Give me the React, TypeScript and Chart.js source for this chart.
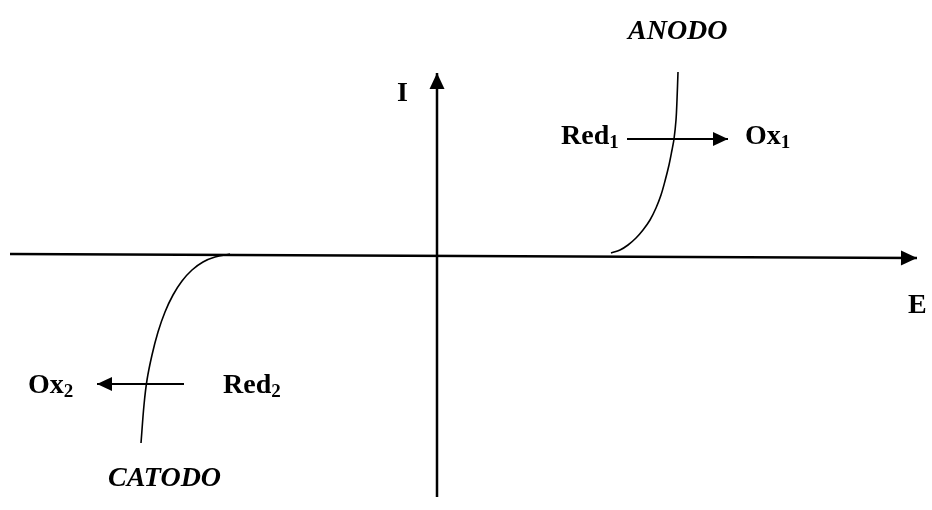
import { useEffect, useRef } from "react";
import { Chart, registerables } from "chart.js";

Chart.register(...registerables);

// Potential (E) / current (I) values, origin at axis crossing
const anodeE = [174, 183, 191, 199, 206, 213, 219, 224, 228, 232, 235, 237, 239, 240, 241];
const anodeI = [3, 6, 11, 18, 26, 36, 48, 61, 75, 91, 106, 117, 136, 156, 184];
const cathodeE = [-207, -222, -234, -245, -255, -264, -272, -279, -285, -290, -293, -296];
const cathodeI = [2, -1, -6, -14, -25, -39, -56, -76, -99, -124, -149, -187];

const eAxisE = [-427, 480];
const eAxisI = [2, -2];
const iAxisE = [0, 0];
const iAxisI = [-241, 183];

const oxidArrowE = [190, 291];
const oxidArrowI = [117, 117];
const reducArrowE = [-253, -340];
const reducArrowI = [-128, -128];

// Text labels: main text, subscript, anchor (E, I), italic
const labelText = ["I", "E", "Red", "Ox", "Ox", "Red", "ANODO", "CATODO"];
const labelSub = ["", "", "1", "1", "2", "2", "", ""];
const labelE = [-40, 471, 124, 308, -409, -214, 191, -329];
const labelI = [155, -57, 112, 112, -137, -137, 217, -230];
const labelItalic = [false, false, false, false, false, false, true, true];

const pts = (xs: number[], ys: number[]) => xs.map((x, i) => ({ x, y: ys[i] }));

const FONT = '"Liberation Serif", "Times New Roman", serif';

const overlay = {
  id: "overlay",
  afterDatasetsDraw(chart: any) {
    const ctx = chart.ctx as CanvasRenderingContext2D;
    const xs = chart.scales.x;
    const ys = chart.scales.y;
    ctx.save();
    // arrowheads
    chart.data.datasets.forEach((ds: any, di: number) => {
      if (!ds.arrow) return;
      const meta = chart.getDatasetMeta(di);
      const n = meta.data.length;
      const a = meta.data[n - 2];
      const b = meta.data[n - 1];
      const ang = Math.atan2(b.y - a.y, b.x - a.x);
      const len = ds.arrowLen;
      const hw = ds.arrowHalf;
      ctx.fillStyle = "#000";
      ctx.beginPath();
      ctx.moveTo(b.x, b.y);
      ctx.lineTo(
        b.x - len * Math.cos(ang) + hw * Math.sin(ang),
        b.y - len * Math.sin(ang) - hw * Math.cos(ang)
      );
      ctx.lineTo(
        b.x - len * Math.cos(ang) - hw * Math.sin(ang),
        b.y - len * Math.sin(ang) + hw * Math.cos(ang)
      );
      ctx.closePath();
      ctx.fill();
    });
    // labels
    ctx.fillStyle = "#000";
    ctx.textAlign = "left";
    ctx.textBaseline = "alphabetic";
    labelText.forEach((t, i) => {
      const px = xs.getPixelForValue(labelE[i]);
      const py = ys.getPixelForValue(labelI[i]);
      ctx.font = `${labelItalic[i] ? "italic " : ""}bold 28px ${FONT}`;
      ctx.fillText(t, px, py);
      if (labelSub[i]) {
        const w = ctx.measureText(t).width;
        ctx.font = `bold 19px ${FONT}`;
        ctx.fillText(labelSub[i], px + w, py + 4);
      }
    });
    ctx.restore();
  },
};

export default function App() {
  const ref = useRef<HTMLCanvasElement | null>(null);
  useEffect(() => {
    if (!ref.current) return;
    const line = (data: any, width: number, extra: any = {}) => ({
      data,
      showLine: true,
      borderColor: "#000",
      backgroundColor: "#000",
      borderWidth: width,
      pointRadius: 0,
      fill: false,
      ...extra,
    });
    const chart = new Chart(ref.current, {
      type: "scatter",
      data: {
        datasets: [
          line(pts(eAxisE, eAxisI), 2.5, { arrow: true, arrowLen: 16, arrowHalf: 7.5 }),
          line(pts(iAxisE, iAxisI), 2.5, { arrow: true, arrowLen: 16, arrowHalf: 7.5 }),
          line(pts(anodeE, anodeI), 1.6, { tension: 0.35 }),
          line(pts(cathodeE, cathodeI), 1.6, { tension: 0.35 }),
          line(pts(oxidArrowE, oxidArrowI), 2, { arrow: true, arrowLen: 15, arrowHalf: 7 }),
          line(pts(reducArrowE, reducArrowI), 2, { arrow: true, arrowLen: 15, arrowHalf: 7 }),
        ] as any,
      },
      options: {
        animation: false,
        responsive: false,
        devicePixelRatio: 1,
        layout: { padding: 0 },
        plugins: { legend: { display: false }, tooltip: { enabled: false } },
        scales: {
          x: { type: "linear", min: -437, max: 495, display: false },
          y: { type: "linear", min: -254, max: 256, display: false },
        },
      },
      plugins: [overlay],
    });
    return () => chart.destroy();
  }, []);
  return (
    <div style={{ position: "fixed", left: 0, top: 0, width: 932, height: 510, background: "#fff" }}>
      <canvas ref={ref} width={932} height={510} style={{ width: 932, height: 510 }} />
    </div>
  );
}
